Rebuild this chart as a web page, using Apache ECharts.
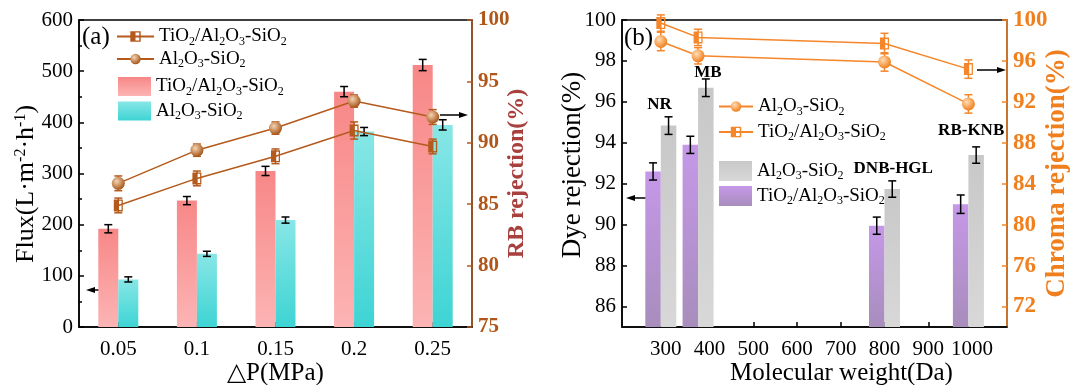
<!DOCTYPE html>
<html lang="en">
<head>
<meta charset="UTF-8">
<title>Flux and rejection</title>
<style>
  * { margin: 0; padding: 0; }
  body { background: #fff; }
  #chart { width: 1072px; height: 385px; }
</style>
</head>
<body>
<div id="chart"></div>
<script src="https://cdn.jsdelivr.net/npm/echarts@6/dist/echarts.min.js"></script>
<script>
  // (a) flux and RB rejection vs pressure
  const pressures = ['0.05', '0.1', '0.15', '0.2', '0.25'];
  const fluxTi = [192, 247, 305, 460, 512];
  const fluxTiErr = [8, 8, 9, 10, 11];
  const fluxAl = [93, 143, 209, 382, 395];
  const fluxAlErr = [5, 5, 6, 8, 10];
  const rbAl = [86.7, 89.4, 91.2, 93.4, 92.1];
  const rbAlErr = [0.6, 0.5, 0.5, 0.5, 0.6];
  const rbTi = [84.9, 87.1, 88.9, 91.0, 89.7];
  const rbTiErr = [0.6, 0.6, 0.6, 0.7, 0.6];

  // (b) dye and chroma rejection vs molecular weight
  const dyes = ['NR', 'MB', 'DNB-HGL', 'RB-KNB'];
  const molWeight = [288.7, 373.9, 800, 991.8];
  const dyeTi = [92.6, 93.9, 89.95, 91.0];
  const dyeTiErr = [0.42, 0.42, 0.42, 0.45];
  const dyeAl = [94.84, 96.69, 91.74, 93.4];
  const dyeAlErr = [0.43, 0.43, 0.4, 0.4];
  const chromaAl = [97.9, 96.5, 95.9, 91.8];
  const chromaAlErr = [0.9, 0.8, 0.9, 0.9];
  const chromaTi = [99.7, 98.3, 97.7, 95.2];
  const chromaTiErr = [0.8, 0.8, 1.0, 0.9];

  const mwTicks = [300, 400, 500, 600, 700, 800, 900, 1000];
  const dyeTicks = [86, 88, 90, 92, 94, 96, 98, 100];
  const chromaTicks = [72, 76, 80, 84, 88, 92, 96, 100];

  const FONT = "'Liberation Serif', 'Times New Roman', serif";
  const BROWN = '#B45A1C';
  const ORANGE = '#F5862A';

  const TI = '{n|TiO}{s|2}{n|/Al}{s|2}{n|O}{s|3}{n|-SiO}{s|2}';
  const AL = '{n|Al}{s|2}{n|O}{s|3}{n|-SiO}{s|2}';
  const legendText = {
    aLineTi: TI, aLineAl: AL, aBarTi: TI, aBarAl: AL,
    bLineAl: AL, bLineTi: TI, bBarAl: AL, bBarTi: TI
  };

  const halfSquare = 'path://M0,0H5V12H0Z M5,0H10V12H5V10.6H8.6V1.4H5Z';

  function sphere(light, dark) {
    return {
      type: 'radial', x: 0.38, y: 0.35, r: 0.7,
      colorStops: [{ offset: 0, color: light }, { offset: 1, color: dark }]
    };
  }
  function vgrad(top, bottom) {
    return {
      type: 'linear', x: 0, y: 0, x2: 0, y2: 1,
      colorStops: [{ offset: 0, color: top }, { offset: 1, color: bottom }]
    };
  }

  // error bars drawn through the axes, shifted by a pixel offset
  function errorBars(xi, yi, xs, ys, errs, shift, color, cap) {
    return {
      type: 'custom', xAxisIndex: xi, yAxisIndex: yi, z: 6, silent: true, clip: false,
      data: xs.map((x, i) => [x, ys[i], errs[i]]),
      encode: { x: 0, y: 1 },
      renderItem(params, api) {
        const x = api.value(0), y = api.value(1), e = api.value(2);
        const hi = api.coord([x, y + e]), lo = api.coord([x, y - e]);
        const cx = hi[0] + shift;
        const st = { stroke: color, lineWidth: 1.5 };
        return {
          type: 'group', children: [
            { type: 'line', shape: { x1: cx, y1: hi[1], x2: cx, y2: lo[1] }, style: st },
            { type: 'line', shape: { x1: cx - cap, y1: hi[1], x2: cx + cap, y2: hi[1] }, style: st },
            { type: 'line', shape: { x1: cx - cap, y1: lo[1], x2: cx + cap, y2: lo[1] }, style: st }
          ]
        };
      }
    };
  }

  function arrow(x1, x2, y) {
    const d = x2 > x1 ? 1 : -1;
    return [
      { type: 'line', shape: { x1: x1, y1: y, x2: x2 - d * 6, y2: y }, style: { stroke: '#000', lineWidth: 1.5 } },
      { type: 'polygon', shape: { points: [[x2, y], [x2 - d * 9, y - 3], [x2 - d * 9, y + 3]] }, style: { fill: '#000' } }
    ];
  }

  const idx = pressures.map((p, i) => i);
  const legendRich = {
    n: { fontFamily: FONT, fontSize: 19, color: '#000', lineHeight: 22 },
    s: { fontFamily: FONT, fontSize: 12, color: '#000', verticalAlign: 'bottom' }
  };
  const baseLegend = {
    orient: 'vertical', selectedMode: false, padding: 0,
    formatter: name => legendText[name],
    textStyle: { rich: legendRich }
  };

  const axisCommon = {
    axisLine: { show: true, lineStyle: { color: '#000', width: 1.5 } },
    axisTick: { show: true, inside: true, length: 5, lineStyle: { color: '#000', width: 1.5 } },
    splitLine: { show: false },
    axisLabel: { color: '#000', fontFamily: FONT, fontSize: 21 },
    nameLocation: 'middle',
    nameMoveOverlap: false,
    nameTextStyle: { color: '#000', fontFamily: FONT, fontSize: 25 }
  };

  const dyeLabelOffsets = [[-9, -7], [2, -2], [1, -7], [-5, -11]];

  const chart = echarts.init(document.getElementById('chart'));
  chart.setOption({
    animation: false,
    grid: [
      { left: 79, right: 600, top: 20, bottom: 58, outerBoundsMode: 'none', show: true, borderColor: '#000', borderWidth: 1.5 },
      { left: 622, right: 65, top: 20, bottom: 58, outerBoundsMode: 'none', show: true, borderColor: '#000', borderWidth: 1.5 }
    ],
    xAxis: [
      Object.assign({}, axisCommon, {
        gridIndex: 0, type: 'category', data: pressures,
        axisTick: Object.assign({}, axisCommon.axisTick, { alignWithLabel: true }),
        axisLabel: Object.assign({}, axisCommon.axisLabel, { margin: 12 }),
        name: '\u25B3P(MPa)', nameGap: 34
      }),
      Object.assign({}, axisCommon, {
        gridIndex: 1, type: 'value', min: 200, max: 1080,
        axisTick: Object.assign({}, axisCommon.axisTick, { customValues: mwTicks }),
        axisLabel: Object.assign({}, axisCommon.axisLabel, { customValues: mwTicks, margin: 12, formatter: v => String(v) }),
        name: 'Molecular weight(Da)', nameGap: 34,
        nameTextStyle: Object.assign({}, axisCommon.nameTextStyle, { padding: [0, 0, 0, 54] })
      })
    ],
    yAxis: [
      Object.assign({}, axisCommon, {
        gridIndex: 0, type: 'value', position: 'left', min: 0, max: 600, interval: 100,
        minorTick: { show: true, splitNumber: 2, length: 3, lineStyle: { color: '#000', width: 1.5 } },
        minorSplitLine: { show: false },
        axisLabel: Object.assign({}, axisCommon.axisLabel, { margin: 6 }),
        name: 'Flux(L\u00B7m{p|-2}\u00B7h{p|-1})', nameGap: 40,
        nameTextStyle: Object.assign({}, axisCommon.nameTextStyle, {
          fontSize: 26, padding: [0, 21, 0, 0],
          rich: { p: { fontFamily: FONT, fontSize: 16, color: '#000', verticalAlign: 'top' } }
        })
      }),
      Object.assign({}, axisCommon, {
        gridIndex: 0, type: 'value', position: 'right', min: 75, max: 100, interval: 5,
        axisLine: { show: true, lineStyle: { color: BROWN, width: 1.5 } },
        axisTick: { show: true, inside: true, length: 5, lineStyle: { color: BROWN, width: 1.5 } },
        axisLabel: { color: '#B0561A', fontFamily: FONT, fontSize: 21, fontWeight: 'bold', margin: 6 },
        name: 'RB rejection(%)', nameGap: 33,
        nameTextStyle: { color: '#A8403E', fontFamily: FONT, fontSize: 24, fontWeight: 'bold' }
      }),
      Object.assign({}, axisCommon, {
        gridIndex: 1, type: 'value', position: 'left', min: 85, max: 100,
        axisTick: Object.assign({}, axisCommon.axisTick, { customValues: dyeTicks }),
        axisLabel: Object.assign({}, axisCommon.axisLabel, { customValues: dyeTicks, margin: 6 }),
        name: 'Dye rejection(%)', nameGap: 36,
        nameTextStyle: Object.assign({}, axisCommon.nameTextStyle, { fontSize: 27, padding: [0, 0, 0, 17] })
      }),
      Object.assign({}, axisCommon, {
        gridIndex: 1, type: 'value', position: 'right', min: 70, max: 100,
        axisLine: { show: true, lineStyle: { color: ORANGE, width: 1.5 } },
        axisTick: { show: true, inside: true, length: 5, customValues: chromaTicks, lineStyle: { color: ORANGE, width: 1.5 } },
        axisLabel: { customValues: chromaTicks, color: '#F07F1E', fontFamily: FONT, fontSize: 23, fontWeight: 'bold', margin: 6 },
        name: 'Chroma rejection(%)', nameGap: 37,
        nameTextStyle: { color: '#F07F1E', fontFamily: FONT, fontSize: 27, fontWeight: 'bold' }
      })
    ],
    legend: [
      Object.assign({}, baseLegend, { data: ['aLineTi', 'aLineAl'], left: 116, top: 27, itemWidth: 37, itemHeight: 13, itemGap: 2 }),
      Object.assign({}, baseLegend, { data: [{ name: 'aBarTi', icon: 'rect' }, { name: 'aBarAl', icon: 'rect' }], left: 118, top: 77, itemWidth: 33, itemHeight: 19, itemGap: 4 }),
      Object.assign({}, baseLegend, { data: ['bLineAl', 'bLineTi'], left: 718, top: 97, itemWidth: 34, itemHeight: 13, itemGap: 5 }),
      Object.assign({}, baseLegend, { data: [{ name: 'bBarAl', icon: 'rect' }, { name: 'bBarTi', icon: 'rect' }], left: 719, top: 161, itemWidth: 33, itemHeight: 20, itemGap: 4 })
    ],
    series: [
      {
        name: 'aBarTi', type: 'bar', xAxisIndex: 0, yAxisIndex: 0, data: fluxTi,
        barWidth: 20, barGap: '0%', itemStyle: { color: vgrad('#F88787', '#FCB4B4') }
      },
      {
        name: 'aBarAl', type: 'bar', xAxisIndex: 0, yAxisIndex: 0, data: fluxAl,
        barWidth: 20, itemStyle: { color: vgrad('#88E6E6', '#3ED4D4') }
      },
      errorBars(0, 0, idx, fluxTi, fluxTiErr, -10, '#000', 4),
      errorBars(0, 0, idx, fluxAl, fluxAlErr, 10, '#000', 4),
      {
        name: 'aLineTi', type: 'line', xAxisIndex: 0, yAxisIndex: 1, data: rbTi, z: 7,
        symbol: halfSquare, symbolSize: [9, 12],
        itemStyle: { color: BROWN }, lineStyle: { color: BROWN, width: 1.5 }
      },
      {
        name: 'aLineAl', type: 'line', xAxisIndex: 0, yAxisIndex: 1, data: rbAl, z: 7,
        symbol: 'circle', symbolSize: 13,
        itemStyle: { color: sphere('#F4D4B4', '#A24E0E') }, lineStyle: { color: BROWN, width: 1.5 }
      },
      errorBars(0, 1, idx, rbTi, rbTiErr, 0, BROWN, 4),
      errorBars(0, 1, idx, rbAl, rbAlErr, 0, BROWN, 4),
      {
        name: 'bBarTi', type: 'bar', xAxisIndex: 1, yAxisIndex: 2,
        data: molWeight.map((m, i) => [m, dyeTi[i]]),
        barWidth: 15.5, barGap: '0%', itemStyle: { color: vgrad('#C598E8', '#A88DBC') }
      },
      {
        name: 'bBarAl', type: 'bar', xAxisIndex: 1, yAxisIndex: 2,
        data: molWeight.map((m, i) => ({
          value: [m, dyeAl[i]],
          label: { offset: dyeLabelOffsets[i] }
        })),
        barWidth: 15.5, itemStyle: { color: vgrad('#C8C8C8', '#D8D8D8') },
        label: {
          show: true, position: 'top', formatter: p => dyes[p.dataIndex],
          color: '#000', fontFamily: FONT, fontSize: 17, fontWeight: 'bold'
        }
      },
      errorBars(1, 2, molWeight, dyeTi, dyeTiErr, -7.75, '#000', 4),
      errorBars(1, 2, molWeight, dyeAl, dyeAlErr, 7.75, '#000', 4),
      {
        name: 'bLineAl', type: 'line', xAxisIndex: 1, yAxisIndex: 3,
        data: molWeight.map((m, i) => [m, chromaAl[i]]), z: 7,
        symbol: 'circle', symbolSize: 13,
        itemStyle: { color: sphere('#FFDDB8', '#F07A10') }, lineStyle: { color: ORANGE, width: 1.5 }
      },
      {
        name: 'bLineTi', type: 'line', xAxisIndex: 1, yAxisIndex: 3,
        data: molWeight.map((m, i) => [m, chromaTi[i]]), z: 7,
        symbol: halfSquare, symbolSize: [9, 12],
        itemStyle: { color: ORANGE }, lineStyle: { color: ORANGE, width: 1.5 }
      },
      errorBars(1, 3, molWeight, chromaAl, chromaAlErr, 0, ORANGE, 4),
      errorBars(1, 3, molWeight, chromaTi, chromaTiErr, 0, ORANGE, 4)
    ],
    graphic: [
      { type: 'text', left: 82, top: 25, style: { text: '(a)', font: '25px ' + FONT, fill: '#000' } },
      { type: 'text', left: 624, top: 26, style: { text: '(b)', font: '25px ' + FONT, fill: '#000' } }
    ].concat(arrow(115, 86, 290), arrow(440, 468, 115), arrow(653, 626, 198), arrow(977, 1006, 70))
  });
</script>
</body>
</html>
